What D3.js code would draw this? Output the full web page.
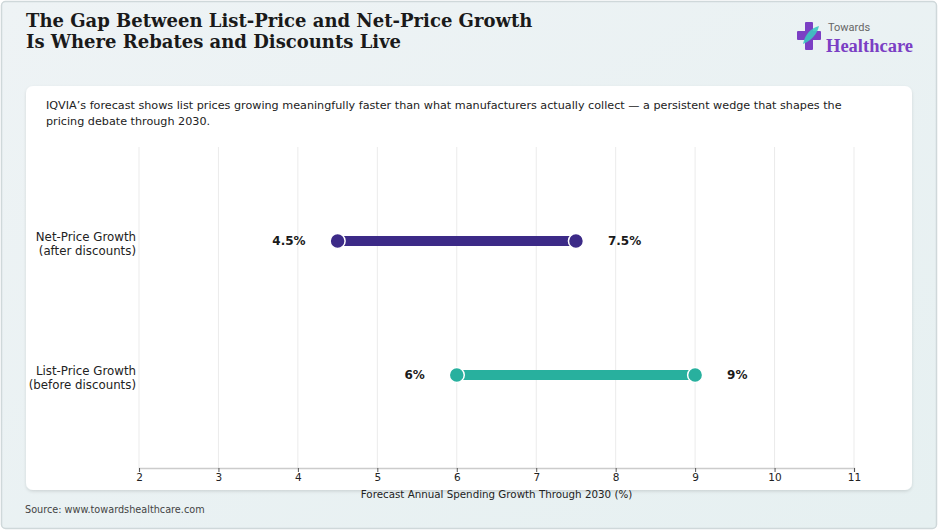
<!DOCTYPE html>
<html>
<head>
<meta charset="utf-8" />
<title>List vs Net Price Growth</title>
<style>
    html, body { margin: 0; padding: 0; background: #fff; }
    svg { display: block; font-family: "DejaVu Sans", sans-serif; }
</style>
</head>
<body>
<div id="chart"></div>
<script src="https://cdn.jsdelivr.net/npm/d3@7/dist/d3.min.js"></script>
<script>
    // data
    const categories = ["Net-Price Growth\n(after discounts)", "List-Price Growth\n(before discounts)"];
    const lowValues = [4.5, 6];
    const highValues = [7.5, 9];
    const lowLabels = ["4.5%", "6%"];
    const highLabels = ["7.5%", "9%"];
    const barColors = ["#3c2a87", "#28b09e"];
    const xTicks = [2, 3, 4, 5, 6, 7, 8, 9, 10, 11];

    const W = 938, H = 531;
    const svg = d3.select("#chart").append("svg")
        .attr("width", W).attr("height", H);

    const defs = svg.append("defs");
    const bg = defs.append("linearGradient").attr("id", "bg")
        .attr("x1", 0).attr("y1", 0).attr("x2", 1).attr("y2", 1);
    bg.append("stop").attr("offset", "0%").attr("stop-color", "#eef3f5");
    bg.append("stop").attr("offset", "100%").attr("stop-color", "#e6f0f1");
    const sh = defs.append("filter").attr("id", "shadow")
        .attr("x", "-5%").attr("y", "-5%").attr("width", "110%").attr("height", "115%");
    sh.append("feDropShadow").attr("dx", 0).attr("dy", 1.5).attr("stdDeviation", 1.5)
        .attr("flood-color", "#000").attr("flood-opacity", 0.12);

    // outer panel
    svg.append("rect")
        .attr("x", 1.5).attr("y", 1.5).attr("width", W - 3).attr("height", H - 4)
        .attr("rx", 4)
        .attr("fill", "url(#bg)").attr("stroke", "#cfd8da").attr("stroke-width", 1.5);

    // title
    const title = svg.append("text")
        .attr("x", 26).attr("y", 27)
        .attr("font-family", "DejaVu Serif, serif")
        .attr("font-weight", "bold").attr("font-size", 18).attr("fill", "#1a1a1a");
    title.append("tspan").attr("x", 26).attr("dy", 0).text("The Gap Between List-Price and Net-Price Growth");
    title.append("tspan").attr("x", 26).attr("dy", 21).text("Is Where Rebates and Discounts Live");

    // logo
    const logo = svg.append("g").attr("transform", "translate(797,22)");
    logo.append("rect").attr("x", 8).attr("y", 0).attr("width", 8).attr("height", 28).attr("rx", 1).attr("fill", "#7b3fc4");
    logo.append("rect").attr("x", 0).attr("y", 9).attr("width", 24).attr("height", 9).attr("rx", 1).attr("fill", "#7b3fc4");
    logo.append("path").attr("d", "M6,22 C8,12 14,6 22,4 C20,12 15,18 6,22 Z").attr("fill", "#3cc7c0").attr("opacity", 0.9);
    logo.append("text").attr("x", 31).attr("y", 9)
        .attr("font-size", 11).attr("fill", "#666").attr("font-family", "Roboto, sans-serif")
        .text("Towards");
    logo.append("text").attr("x", 29).attr("y", 30)
        .attr("font-size", 18.5).attr("fill", "#7b3fc4").attr("font-family", "Liberation Serif, serif")
        .attr("font-weight", "bold")
        .text("Healthcare");

    // white card
    svg.append("rect")
        .attr("x", 26).attr("y", 86).attr("width", 886).attr("height", 404)
        .attr("rx", 7).attr("fill", "#fff").attr("filter", "url(#shadow)");

    const sub = svg.append("text").attr("x", 46).attr("y", 109)
        .attr("font-size", 11.2).attr("fill", "#222");
    sub.append("tspan").attr("x", 46).text("IQVIA\u2019s forecast shows list prices growing meaningfully faster than what manufacturers actually collect \u2014 a persistent wedge that shapes the");
    sub.append("tspan").attr("x", 46).attr("dy", 15.5).text("pricing debate through 2030.");

    // scales
    const x = d3.scaleLinear().domain([2, 11]).range([139, 854]);
    const y = d3.scalePoint().domain(categories).range([241, 375]);
    const plotTop = 147, plotBottom = 468;

    // grid
    svg.append("g").selectAll("line").data(xTicks).join("line")
        .attr("x1", d => x(d)).attr("x2", d => x(d))
        .attr("y1", plotTop).attr("y2", plotBottom)
        .attr("stroke", "#ebebeb").attr("stroke-width", 1);

    // axis
    const axis = svg.append("g").attr("transform", `translate(0,${plotBottom})`)
        .call(d3.axisBottom(x).tickValues(xTicks).tickSize(4).tickPadding(2).tickFormat(d3.format("d")));
    axis.select(".domain").attr("stroke", "#cccccc").attr("stroke-width", 1.5);
    axis.selectAll(".tick line").attr("stroke", "#555");
    axis.selectAll(".tick text").attr("font-size", 10.5).attr("fill", "#222")
        .attr("font-family", "DejaVu Sans, sans-serif");

    svg.append("text").attr("x", x(6.5)).attr("y", 498)
        .attr("text-anchor", "middle").attr("font-size", 10.3).attr("fill", "#222")
        .text("Forecast Annual Spending Growth Through 2030 (%)");

    // category labels
    svg.append("g").selectAll("text").data(categories).join("text")
        .attr("x", 136).attr("y", d => y(d) + 1)
        .attr("text-anchor", "end").attr("font-size", 11.8).attr("fill", "#222")
        .each(function (d) {
            const lines = d.split("\n");
            d3.select(this).selectAll("tspan").data(lines).join("tspan")
                .attr("x", 136).attr("dy", (l, i) => i === 0 ? "-0.05em" : "1.15em")
                .text(l => l);
        });

    // dumbbells
    const rows = categories.map((c, i) => ({ c, lo: lowValues[i], hi: highValues[i], lol: lowLabels[i], hil: highLabels[i], col: barColors[i] }));
    const g = svg.append("g");
    g.selectAll("line.bar").data(rows).join("line").attr("class", "bar")
        .attr("x1", d => x(d.lo)).attr("x2", d => x(d.hi))
        .attr("y1", d => y(d.c)).attr("y2", d => y(d.c))
        .attr("stroke", d => d.col).attr("stroke-width", 10);
    g.selectAll("circle.lo").data(rows).join("circle").attr("class", "lo")
        .attr("cx", d => x(d.lo)).attr("cy", d => y(d.c)).attr("r", 7.5)
        .attr("fill", d => d.col).attr("stroke", "#fff").attr("stroke-width", 1.5);
    g.selectAll("circle.hi").data(rows).join("circle").attr("class", "hi")
        .attr("cx", d => x(d.hi)).attr("cy", d => y(d.c)).attr("r", 7.5)
        .attr("fill", d => d.col).attr("stroke", "#fff").attr("stroke-width", 1.5);
    g.selectAll("text.lo").data(rows).join("text").attr("class", "lo")
        .attr("x", d => x(d.lo) - 32).attr("y", d => y(d.c)).attr("dy", "0.35em")
        .attr("text-anchor", "end").attr("font-size", 12).attr("font-weight", "bold").attr("fill", "#1a1a1a")
        .text(d => d.lol);
    g.selectAll("text.hi").data(rows).join("text").attr("class", "hi")
        .attr("x", d => x(d.hi) + 32).attr("y", d => y(d.c)).attr("dy", "0.35em")
        .attr("text-anchor", "start").attr("font-size", 12).attr("font-weight", "bold").attr("fill", "#1a1a1a")
        .text(d => d.hil);

    // source
    svg.append("text").attr("x", 25).attr("y", 513)
        .attr("font-size", 9.7).attr("fill", "#444")
        .text("Source: www.towardshealthcare.com");
</script>
</body>
</html>
